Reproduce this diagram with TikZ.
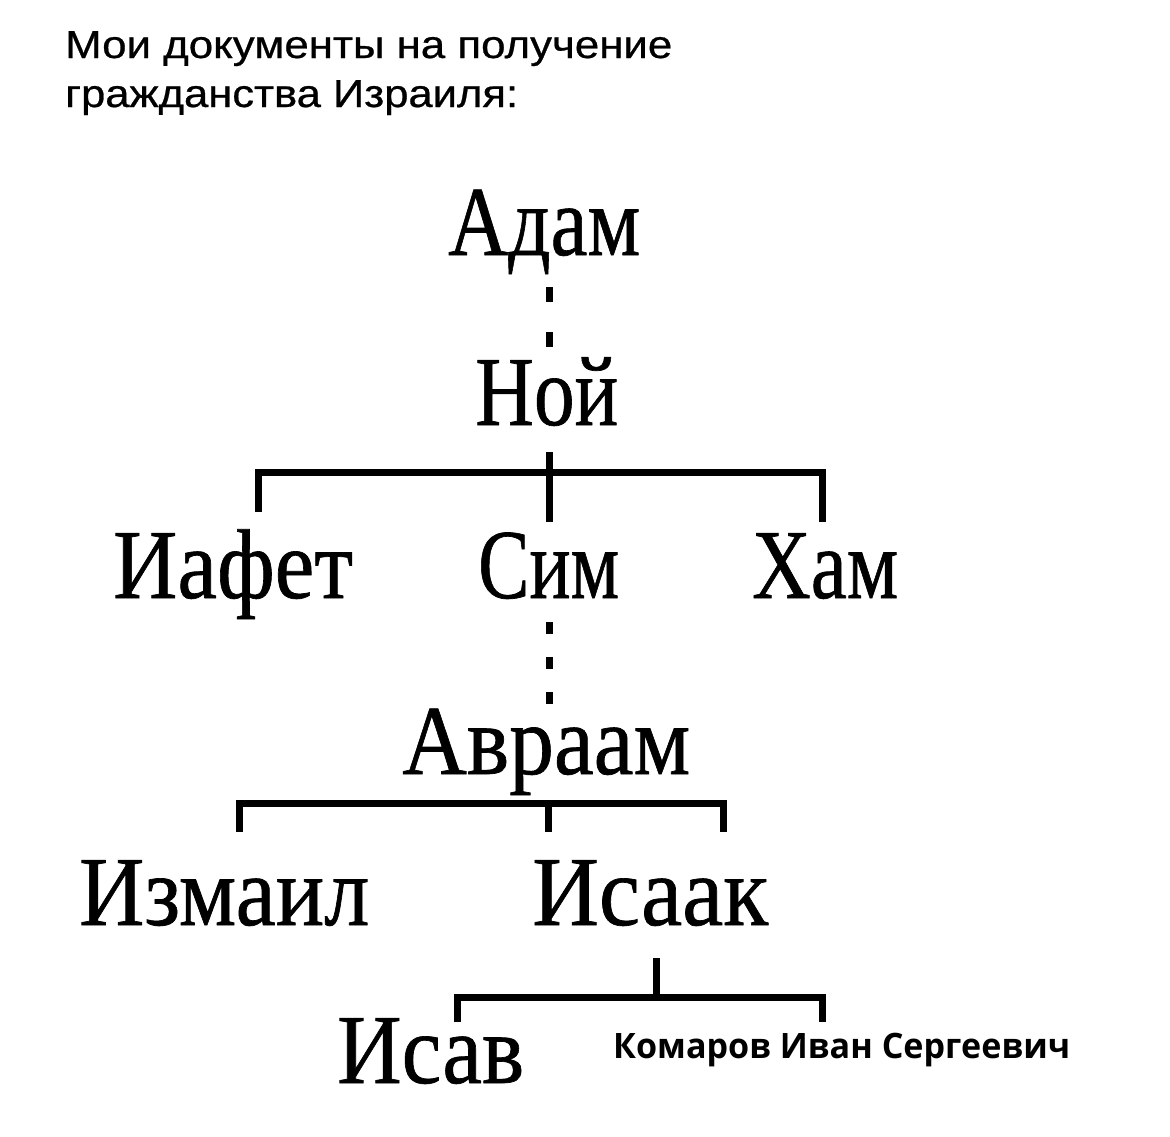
\documentclass[tikz,border=0pt]{standalone}
\usepackage{fontspec}
\setmainfont[FakeBold=0.7]{Liberation Serif}
\newfontfamily\ttlfont[FakeBold=0.6]{Liberation Sans}
\newfontfamily\sigfont{Open Sans}
\newcommand\fitw[2]{\resizebox{#1pt}{\height}{#2}}
\tikzset{
  gname/.style={anchor=base west, inner sep=0pt, font=\fontsize{99}{100}\selectfont},
  ttl/.style={anchor=base west, inner sep=0pt, font=\ttlfont\fontsize{39}{40}\selectfont},
  sig/.style={anchor=base west, inner sep=0pt, font=\sigfont\bfseries\fontsize{35}{36}\selectfont},
  link/.style={line width=7pt, line join=miter, black},
  dots/.style={line width=7pt, black},
}
\begin{document}
\begin{tikzpicture}[x=1pt, y=-1pt]
\fill[white] (0,0) rectangle (1170,1136);
\useasboundingbox (0,0) rectangle (1170,1136);

% title
\node[ttl] (t1) at (65,58) {\fitw{607}{Мои документы на получение}};
\node[ttl] (t2) at (65,107) {\fitw{453}{гражданства Израиля:}};

% names
\node[gname] (adam)   at (448,255)  {\fitw{192}{Адам}};
\node[gname] (noi)    at (475,425)  {\fitw{143}{Ной}};
\node[gname] (iafet)  at (113,598)  {\fitw{240}{Иафет}};
\node[gname] (sim)    at (478,598)  {\fitw{141}{Сим}};
\node[gname] (ham)    at (752,598)  {\fitw{146}{Хам}};
\node[gname] (avraam) at (402,774)  {\fitw{288}{Авраам}};
\node[gname] (izmail) at (79,925)   {\fitw{290}{Измаил}};
\node[gname] (isaak)  at (532,925)  {\fitw{236}{Исаак}};
\node[gname] (isav)   at (337,1083) {\fitw{187}{Исав}};
\node[sig]   (kom)    at (613,1058) {\fitw{457}{Комаров Иван Сергеевич}};

% junction coordinates
\coordinate (d1a) at (549,287);
\coordinate (d1b) at (549,349);
\coordinate (b1c) at (549,452);
\coordinate (b1top) at (549,472);
\coordinate (b1cb) at (549,522);
\coordinate (b1l) at (258,512);
\coordinate (b1r) at (822,522);
\coordinate (d2a) at (549,622);
\coordinate (d2b) at (549,704);
\coordinate (b2top) at (548,803);
\coordinate (b2cb) at (548,832);
\coordinate (b2l) at (239,832);
\coordinate (b2r) at (723,832);
\coordinate (b3c) at (656,958);
\coordinate (b3top) at (656,997);
\coordinate (b3l) at (457,1022);
\coordinate (b3r) at (822,1022);

% Адам - Ной
\draw[dots, dash pattern=on 15pt off 30pt] (d1a) -- (d1b);
% Ной -> Иафет, Сим, Хам
\draw[link] (b1l) |- (b1top) -| (b1r);
\draw[link] (b1c) -- (b1cb);
% Сим - Авраам
\draw[dots, dash pattern=on 12pt off 23pt] (d2a) -- (d2b);
% Авраам -> Измаил, Исаак
\draw[link] (b2l) |- (b2top) -| (b2r);
\draw[link] (b2top) -- (b2cb);
% Исаак -> Исав, Комаров
\draw[link] (b3l) |- (b3top) -| (b3r);
\draw[link] (b3c) -- (b3top);
\end{tikzpicture}
\end{document}
